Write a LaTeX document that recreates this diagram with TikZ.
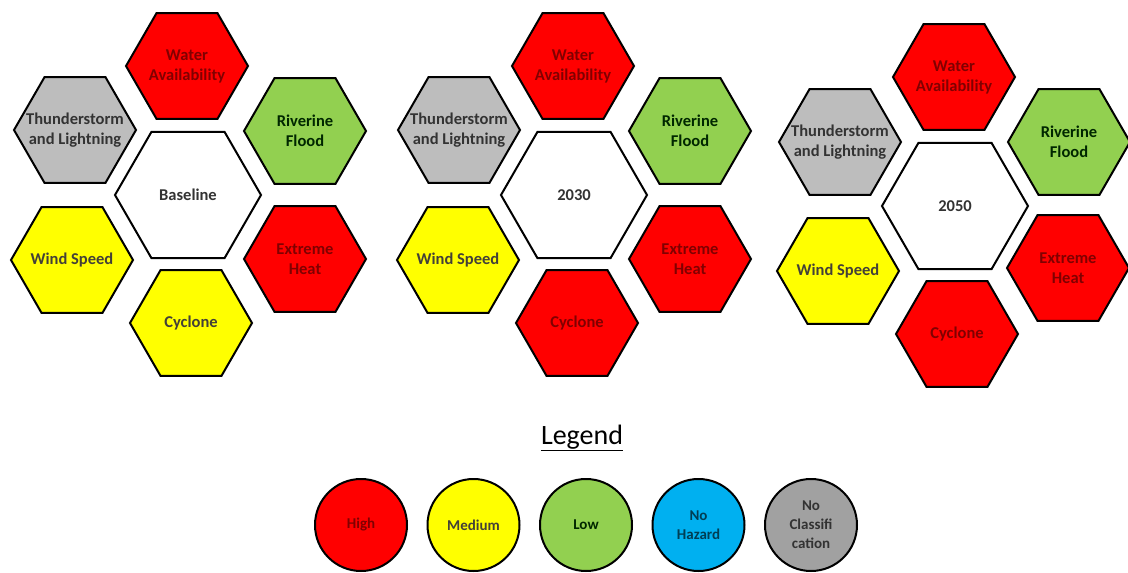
\documentclass[tikz,border=0pt]{standalone}
\usepackage{xcolor}
\usepackage{fontspec}
\setmainfont{Carlito}
\usepackage{tikz}
\usetikzlibrary{positioning, shapes.geometric}

\definecolor{hired}{HTML}{FF0000}
\definecolor{medyellow}{HTML}{FFFF00}
\definecolor{lowgreen}{HTML}{92D050}
\definecolor{noblue}{HTML}{00B0F0}
\definecolor{nogrey}{HTML}{BDBDBD}

\begin{document}
\begin{tikzpicture}[x=1pt, y=-1pt, node distance = 18.5pt]
            \tikzstyle{hexa} = [regular polygon, regular polygon sides=6, draw=black, line width=2pt, minimum size=122pt, inner sep=-12pt, align=center, font=\fontsize{16.5}{20}\selectfont\bfseries]
            \tikzstyle{high} = [hexa, fill=hired, text=red!50!black]
            \tikzstyle{medium} = [hexa, fill=medyellow, text=black!85!yellow]
            \tikzstyle{low} = [hexa, fill=lowgreen, text=black!85!green]
            \tikzstyle{nocls} = [hexa, fill=nogrey, text=black!80]
            \tikzstyle{period} = [hexa, minimum size=146pt, fill=white, text=black!80]
            \tikzstyle{key} = [circle, draw=black, line width=2pt, minimum size=92pt, inner sep=0pt, align=center, font=\fontsize{15}{19}\selectfont\bfseries]
            \useasboundingbox (0,0) rectangle (1128,573);

            % baseline
            \node [period] (A0) at (188,195) {Baseline};
            \node [high] (A1) at (187,66) {Water\\Availability};
            \node [low] (A2) at (305,131) {Riverine\\Flood};
            \node [high] (A3) at (305,259) {Extreme\\Heat};
            \node [medium] (A4) at (191,323) {Cyclone};
            \node [medium] (A5) at (72,260) {Wind Speed};
            \node [nocls] (A6) at (75,130) {Thunderstorm\\and Lightning};

            % 2030
            \node [period] (B0) at (574,195) {2030};
            \node [high] (B1) at (573,66) {Water\\Availability};
            \node [low] (B2) at (690,131) {Riverine\\Flood};
            \node [high] (B3) at (690,259) {Extreme\\Heat};
            \node [high] (B4) at (577,323) {Cyclone};
            \node [medium] (B5) at (458,260) {Wind Speed};
            \node [nocls] (B6) at (459,130) {Thunderstorm\\and Lightning};

            % 2050
            \node [period] (C0) at (955,206) {2050};
            \node [high] (C1) at (954,77) {Water\\Availability};
            \node [low] (C2) at (1069,142) {Riverine\\Flood};
            \node [high] (C3) at (1068,268) {Extreme\\Heat};
            \node [high] (C4) at (957,334) {Cyclone};
            \node [medium] (C5) at (838,271) {Wind Speed};
            \node [nocls] (C6) at (840,142) {Thunderstorm\\and Lightning};

            % legend
            \node [inner sep=0pt, font=\fontsize{28}{32}\selectfont] (L) at (582,437) {Legend};
            \draw [line width=1.6pt] ([yshift=-6pt]L.base west) -- ([yshift=-6pt]L.base east);

            \node [key, fill=hired, text=red!50!black] (K1) at (361,525) {High};
            \node [key, fill=medyellow, text=black!85!yellow, right = of K1] (K2) {Medium};
            \node [key, fill=lowgreen, text=black!85!green, right = of K2] (K3) {Low};
            \node [key, fill=noblue, text=noblue!35!black, right = of K3] (K4) {No\\Hazard};
            \node [key, fill=nogrey!85!black, text=black!80, right = of K4] (K5) {No\\Classifi\\cation};
        \end{tikzpicture}
\end{document}
